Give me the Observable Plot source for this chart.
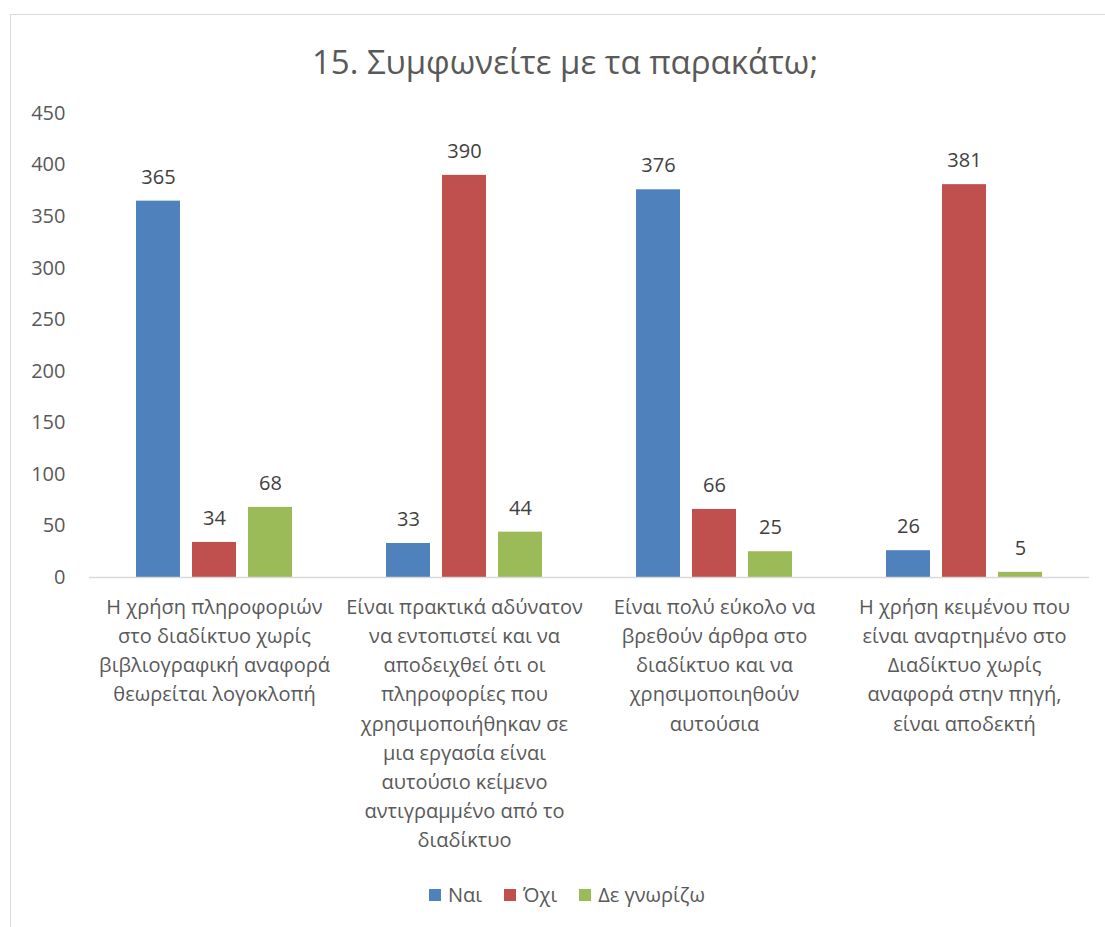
<!DOCTYPE html>
<html>
<head>
<meta charset="utf-8">
<script src="https://cdn.jsdelivr.net/npm/d3@7"></script>
<script src="https://cdn.jsdelivr.net/npm/@observablehq/plot@0.6"></script>
<style>
  html, body { margin: 0; padding: 0; background: #fff; }
  body { width: 1105px; height: 927px; position: relative; overflow: hidden; font-family: "Open Sans", sans-serif; color: #595959; }
  #frame { position: absolute; left: 10px; top: 14px; width: 1110px; height: 930px; border: 1px solid #d9d9d9; box-sizing: border-box; }
  #title { position: absolute; left: 0; width: 1130px; top: 39px; text-align: center; font-size: 33px; color: #595959; }
  #chart { position: absolute; left: 0; top: 100px; }
  #legend { position: absolute; left: 0; width: 1134px; top: 881px; display: flex; justify-content: center; gap: 22px; font-size: 20px; color: #595959; }
  #legend .item { display: flex; align-items: center; }
  #legend .sw { width: 12px; height: 12px; margin-right: 7px; }
</style>
</head>
<body>
<div id="frame"></div>
<div id="title">15. Συμφωνείτε με τα παρακάτω;</div>
<div id="chart"></div>
<div id="legend"></div>
<script>
const categories = [
  "Η χρήση πληροφοριών στο διαδίκτυο χωρίς βιβλιογραφική αναφορά θεωρείται λογοκλοπή",
  "Είναι πρακτικά αδύνατον να εντοπιστεί και να αποδειχθεί ότι οι πληροφορίες που χρησιμοποιήθηκαν σε μια εργασία είναι αυτούσιο κείμενο αντιγραμμένο από το διαδίκτυο",
  "Είναι πολύ εύκολο να βρεθούν άρθρα στο διαδίκτυο και να χρησιμοποιηθούν αυτούσια",
  "Η χρήση κειμένου που είναι αναρτημένο στο Διαδίκτυο χωρίς αναφορά στην πηγή, είναι αποδεκτή"
];
const tickLabels = [
  "Η χρήση πληροφοριών\nστο διαδίκτυο χωρίς\nβιβλιογραφική αναφορά\nθεωρείται λογοκλοπή",
  "Είναι πρακτικά αδύνατον\nνα εντοπιστεί και να\nαποδειχθεί ότι οι\nπληροφορίες που\nχρησιμοποιήθηκαν σε\nμια εργασία είναι\nαυτούσιο κείμενο\nαντιγραμμένο από το\nδιαδίκτυο",
  "Είναι πολύ εύκολο να\nβρεθούν άρθρα στο\nδιαδίκτυο και να\nχρησιμοποιηθούν\nαυτούσια",
  "Η χρήση κειμένου που\nείναι αναρτημένο στο\nΔιαδίκτυο χωρίς\nαναφορά στην πηγή,\nείναι αποδεκτή"
];
const series = ["Ναι", "Όχι", "Δε γνωρίζω"];
const colors = ["#4F81BD", "#C0504D", "#9BBB59"];
const nai = [365, 33, 376, 26];
const oxi = [34, 390, 66, 381];
const deGnorizo = [68, 44, 25, 5];
const yTicks = [0, 50, 100, 150, 200, 250, 300, 350, 400, 450];

const seriesValues = [nai, oxi, deGnorizo];
const data = categories.flatMap((c, i) =>
  series.map((s, j) => ({ category: c, series: s, value: seriesValues[j][i] }))
);

const chart = Plot.plot({
  width: 1105,
  height: 775,
  marginLeft: 88,
  marginRight: 15,
  marginTop: 13,
  marginBottom: 298,
  style: { fontFamily: "Open Sans, sans-serif", fontSize: "20px", color: "#595959", background: "transparent" },
  fx: { domain: categories, padding: 0, label: null },
  x: { domain: series, axis: null, paddingInner: 0.214, paddingOuter: 0.839 },
  y: { domain: [0, 450], label: null },
  color: { domain: series, range: colors },
  marks: [
    Plot.barY(data, { fx: "category", x: "series", y: "value", fill: "series" }),
    Plot.text(data, { fx: "category", x: "series", y: "value", text: d => String(d.value), dy: -24, fill: "#404040", fontSize: 20 }),
    Plot.ruleY([0], { stroke: "#d9d9d9", strokeWidth: 1.5 }),
    Plot.axisY({ ticks: yTicks, tickSize: 0, tickPadding: 24, label: null, fontSize: 20, fill: "#595959" }),
    Plot.axisFx({ anchor: "bottom", tickSize: 0, tickPadding: 16, label: null, fontSize: 20, lineHeight: 1.455, fill: "#595959",
      tickFormat: c => tickLabels[categories.indexOf(c)] })
  ]
});
document.getElementById("chart").appendChild(chart);

const legend = document.getElementById("legend");
series.forEach((s, i) => {
  const item = document.createElement("div");
  item.className = "item";
  const sw = document.createElement("span");
  sw.className = "sw";
  sw.style.background = colors[i];
  const lab = document.createElement("span");
  lab.textContent = s;
  item.appendChild(sw);
  item.appendChild(lab);
  legend.appendChild(item);
});
</script>
</body>
</html>
